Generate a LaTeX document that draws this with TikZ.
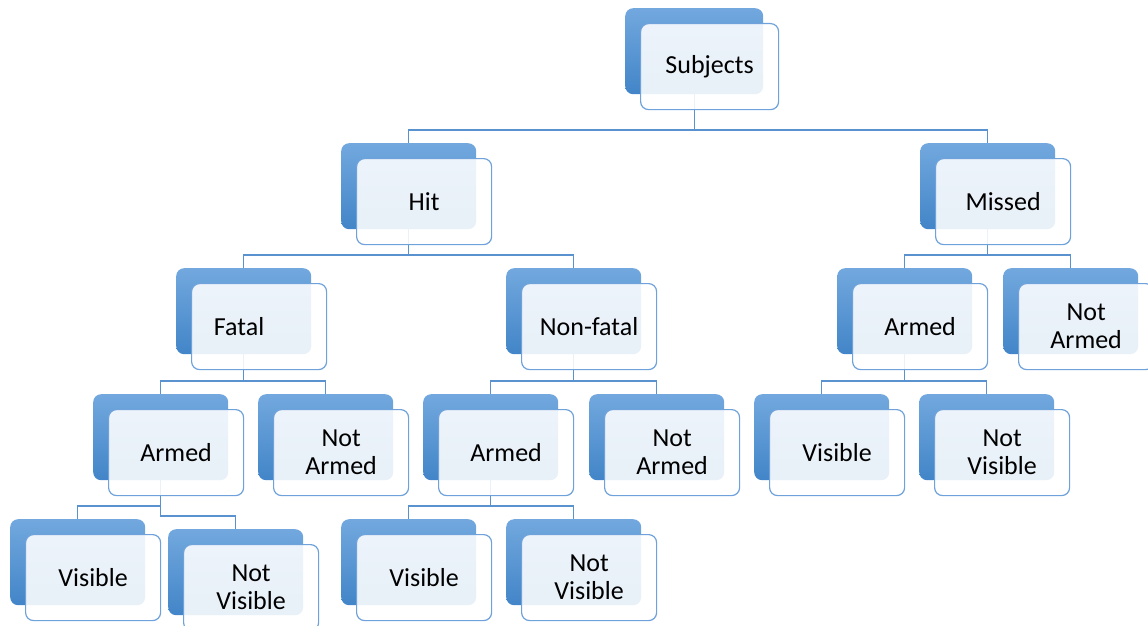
\documentclass[tikz,border=0pt]{standalone}
\usepackage{fontspec}
\setmainfont{Carlito}
\definecolor{topblue}{HTML}{72A8DE}
\definecolor{botblue}{HTML}{4285C8}
\definecolor{edgeblue}{HTML}{6FA2DA}
\definecolor{lineblue}{HTML}{5A92CF}
\tikzset{
  backbox/.style={rectangle, rounded corners=8pt, minimum width=135pt, minimum height=86pt,
    inner sep=0pt, anchor=north west, top color=topblue, bottom color=botblue, draw=none},
  frontbox/.style={rectangle, rounded corners=8pt, minimum width=135pt, minimum height=86pt,
    inner sep=0pt, anchor=north west, fill=white, fill opacity=0.88, text opacity=1,
    draw=edgeblue, line width=1.2pt, align=center, text=black,
    font=\fontsize{26}{28}\selectfont},
  conn/.style={draw=lineblue, line width=1.1pt}
}
\begin{document}
\begin{tikzpicture}[x=1pt,y=-1pt]
\useasboundingbox (0,0) rectangle (1148,626);
\clip (0,0) rectangle (1148,626);
% back boxes
\node[backbox, minimum width=138pt] (subjB) at (625,8) {};
\node[backbox] (hitB) at (341,143) {};
\node[backbox] (missB) at (920,143) {};
\node[backbox] (fatB) at (176,268) {};
\node[backbox] (nfatB) at (506,268) {};
\node[backbox] (mArmB) at (837,268) {};
\node[backbox] (mNArmB) at (1003,268) {};
\node[backbox] (fArmB) at (93,394) {};
\node[backbox] (fNArmB) at (258,394) {};
\node[backbox] (nArmB) at (423,394) {};
\node[backbox] (nNArmB) at (589,394) {};
\node[backbox] (mVisB) at (754,394) {};
\node[backbox] (mNVisB) at (919,394) {};
\node[backbox] (fVisB) at (10,519) {};
\node[backbox] (fNVisB) at (168,529) {};
\node[backbox] (nVisB) at (341,519) {};
\node[backbox] (nNVisB) at (506,519) {};
% connectors
\coordinate (j1) at (subjB.south |- 0,130);
\draw[conn] (subjB.south) -- (j1) -| (hitB.north);
\draw[conn] (j1) -| (missB.north);
\coordinate (j2) at (hitB.south |- 0,255);
\draw[conn] (hitB.south) -- (j2) -| (fatB.north);
\draw[conn] (j2) -| (nfatB.north);
\coordinate (j3) at (missB.south |- 0,255);
\draw[conn] (missB.south) -- (j3) -| (mArmB.north);
\draw[conn] (j3) -| (mNArmB.north);
\coordinate (j4) at (fatB.south |- 0,381);
\draw[conn] (fatB.south) -- (j4) -| (fArmB.north);
\draw[conn] (j4) -| (fNArmB.north);
\coordinate (j5) at (nfatB.south |- 0,381);
\draw[conn] (nfatB.south) -- (j5) -| (nArmB.north);
\draw[conn] (j5) -| (nNArmB.north);
\coordinate (j6) at (mArmB.south |- 0,381);
\draw[conn] (mArmB.south) -- (j6) -| (mVisB.north);
\draw[conn] (j6) -| (mNVisB.north);
\coordinate (j7) at (fArmB.south |- 0,506);
\coordinate (j7b) at (fArmB.south |- 0,516);
\draw[conn] (fArmB.south) -- (j7) -| (fVisB.north);
\draw[conn] (j7) -- (j7b) -| (fNVisB.north);
\coordinate (j8) at (nArmB.south |- 0,506);
\draw[conn] (nArmB.south) -- (j8) -| (nVisB.north);
\draw[conn] (j8) -| (nNVisB.north);
% front boxes
\node[frontbox, minimum width=138pt] (subj) at (640,23) {Subjects};
\node[frontbox] (hit) at (356,158) {Hit};
\node[frontbox] (miss) at (935,158) {Missed};
\node[frontbox] (fat) at (191,283) {Fatal\hspace*{40pt}};
\node[frontbox] (nfat) at (521,283) {Non-fatal};
\node[frontbox] (mArm) at (852,283) {Armed};
\node[frontbox] (mNArm) at (1018,283) {Not\\Armed};
\node[frontbox] (fArm) at (108,409) {Armed};
\node[frontbox] (fNArm) at (273,409) {Not\\Armed};
\node[frontbox] (nArm) at (438,409) {Armed};
\node[frontbox] (nNArm) at (604,409) {Not\\Armed};
\node[frontbox] (mVis) at (769,409) {Visible};
\node[frontbox] (mNVis) at (934,409) {Not\\Visible};
\node[frontbox] (fVis) at (25,534) {Visible};
\node[frontbox] (fNVis) at (183,544) {Not\\Visible};
\node[frontbox] (nVis) at (356,534) {Visible};
\node[frontbox] (nNVis) at (521,534) {Not\\Visible};
\end{tikzpicture}
\end{document}
